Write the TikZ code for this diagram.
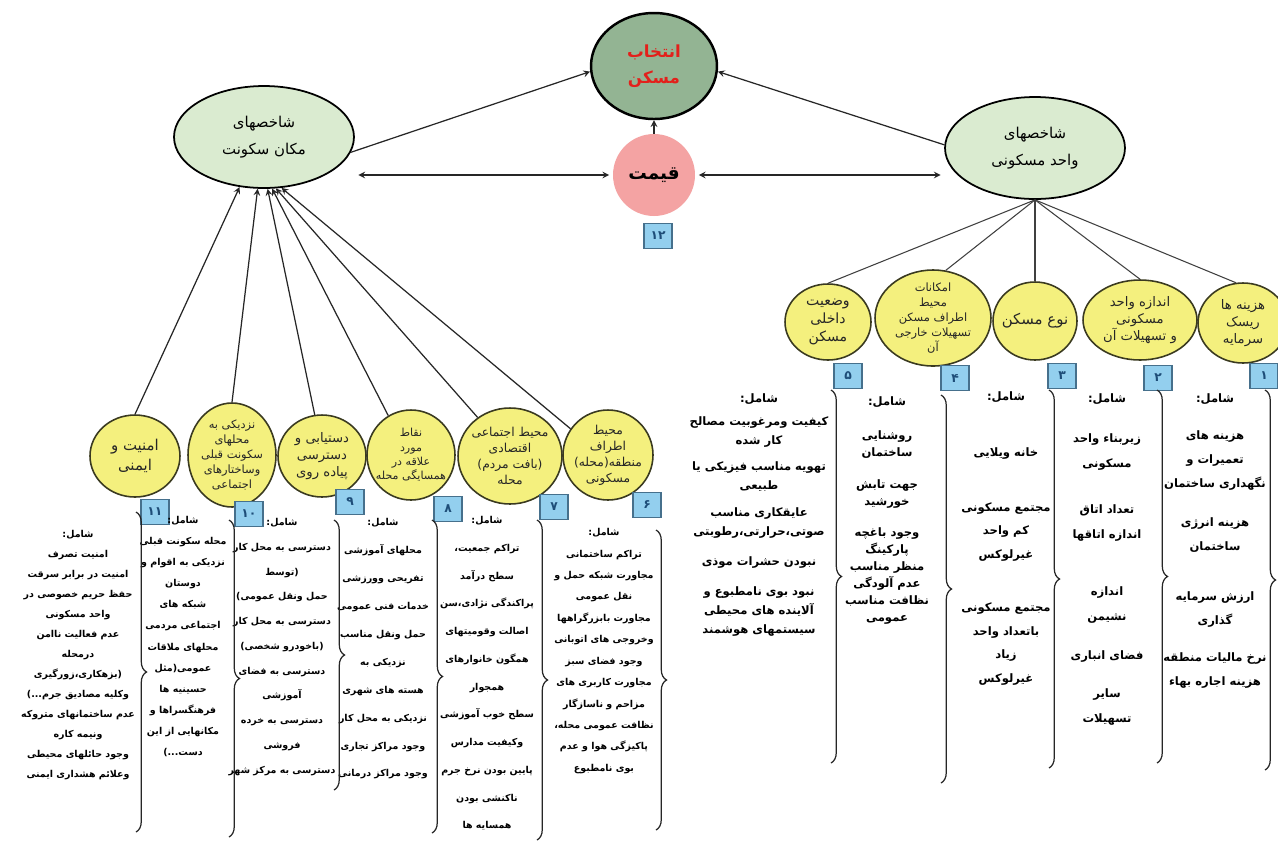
\documentclass[tikz,border=0pt]{standalone}
\usepackage{fontspec}
\usetikzlibrary{shapes.geometric, decorations.pathreplacing}
\newfontfamily\arabicfont[Script=Arabic]{DejaVu Sans}
\TeXXeTstate=1
\newcommand{\fa}[1]{\beginR #1\endR}
\definecolor{topgreen}{HTML}{93B493}
\definecolor{palegreen}{HTML}{DAEBD0}
\definecolor{ellyellow}{HTML}{F4F07E}
\definecolor{ellline}{HTML}{3A3A20}
\definecolor{pricepink}{HTML}{F4A3A3}
\definecolor{boxblue}{HTML}{93CFEE}
\definecolor{boxline}{HTML}{46708C}
\definecolor{boxtext}{HTML}{1E4D78}
\definecolor{titlered}{HTML}{E3201B}

\begin{document}
\begin{tikzpicture}[x=0.02cm, y=-0.02cm, every node/.style={inner sep=0pt},
  topell/.style={ellipse, draw=black, line width=1.4pt, fill=topgreen, minimum width=2.52cm, minimum height=2.12cm, align=center, text=titlered, font=\arabicfont\bfseries\fontsize{9.5}{15}\selectfont},
  priceball/.style={circle, fill=pricepink, minimum size=1.64cm, font=\arabicfont\bfseries\fontsize{10.5}{12}\selectfont},
  bigell/.style={ellipse, draw=black, line width=1pt, fill=palegreen, minimum width=3.6cm, minimum height=2.04cm, align=center, font=\arabicfont\fontsize{8.5}{15}\selectfont},
  smallell/.style={ellipse, draw=ellline, line width=0.9pt, fill=ellyellow, inner xsep=-12pt, inner ysep=-10pt, align=center, text=black!85, font=\arabicfont\fontsize{#1}{1.3\dimexpr #1pt\relax}\selectfont},
  numbox/.style={draw=boxline, fill=boxblue, line width=0.7pt, minimum width=0.56cm, minimum height=0.5cm, text=boxtext, font=\arabicfont\bfseries\fontsize{7}{7}\selectfont},
  rightcol/.style={align=center, anchor=north, font=\arabicfont\bfseries\fontsize{6.6}{#1}\selectfont},
  leftcol/.style={align=center, anchor=north, font=\arabicfont\bfseries\fontsize{5.4}{#1}\selectfont},
  colbrace/.style={decorate, decoration={brace, amplitude=6pt}, draw=black!85, line width=0.7pt},
  arr/.style={-stealth, draw=black!85, line width=0.7pt},
  dblarr/.style={stealth-stealth, draw=black!85, line width=0.7pt},
  spoke/.style={draw=black!75, line width=0.6pt}]
\useasboundingbox (0,0) rectangle (1278,843);
\fill[white] (0,0) rectangle (1278,843);

\node[topell] (choice) at (654,66) {\fa{انتخاب}\\\fa{مسکن}};
\node[priceball] (price) at (654,175) {\fa{قیمت}};
\node[numbox] (n12) at (658,236) {۱۲};
\node[bigell] (site) at (264,137) {\fa{شاخصهای}\\\fa{مکان سکونت}};
\node[bigell] (unit) at (1035,148) {\fa{شاخصهای}\\\fa{واحد مسکونی}};

\node[smallell=8, minimum width=1.72cm, minimum height=1.52cm] (e5) at (828,322) {\fa{وضعیت}\\\fa{داخلی}\\\fa{مسکن}};
\node[smallell=6.5, minimum width=2.32cm, minimum height=1.92cm] (e4) at (933,318) {\fa{امکانات}\\\fa{محیط}\\\fa{اطراف مسکن}\\\fa{تسهیلات خارجی}\\\fa{آن}};
\node[smallell=8.5, minimum width=1.68cm, minimum height=1.56cm] (e3) at (1035,321) {\fa{نوع مسکن}};
\node[smallell=7.5, minimum width=2.28cm, minimum height=1.6cm] (e2) at (1140,320) {\fa{اندازه واحد}\\\fa{مسکونی}\\\fa{و تسهیلات آن}};
\node[smallell=7.5, minimum width=1.8cm, minimum height=1.6cm] (e1) at (1243,323) {\fa{هزینه ها}\\\fa{ریسک}\\\fa{سرمایه}};

\node[smallell=8.5, minimum width=1.8cm, minimum height=1.64cm] (e11) at (135,456) {\fa{امنیت و}\\\fa{ایمنی}};
\node[smallell=6.5, minimum width=1.76cm, minimum height=2.08cm] (e10) at (232,455) {\fa{نزدیکی به}\\\fa{محلهای}\\\fa{سکونت قبلی}\\\fa{وساختارهای}\\\fa{اجتماعی}};
\node[smallell=7.5, minimum width=1.76cm, minimum height=1.64cm] (e9) at (322,456) {\fa{دستیابی و}\\\fa{دسترسی}\\\fa{پیاده روی}};
\node[smallell=6.3, minimum width=1.76cm, minimum height=1.8cm] (e8) at (411,455) {\fa{نقاط}\\\fa{مورد}\\\fa{علاقه در}\\\fa{همسایگی محله}};
\node[smallell=7, minimum width=2.08cm, minimum height=1.92cm] (e7) at (510,456) {\fa{محیط اجتماعی}\\\fa{اقتصادی}\\\fa{(بافت مردم)}\\\fa{محله}};
\node[smallell=7, minimum width=1.8cm, minimum height=1.8cm] (e6) at (608,455) {\fa{محیط}\\\fa{اطراف}\\\fa{منطقه(محله)}\\\fa{مسکونی}};

\node[numbox] (n5) at (848,376) {۵};
\node[numbox] (n4) at (955,378) {۴};
\node[numbox] (n3) at (1062,376) {۳};
\node[numbox] (n2) at (1158,378) {۲};
\node[numbox] (n1) at (1264,376) {۱};
\node[numbox] (n11) at (155,512) {۱۱};
\node[numbox] (n10) at (249,514) {۱۰};
\node[numbox] (n9) at (350,502) {۹};
\node[numbox] (n8) at (448,509) {۸};
\node[numbox] (n7) at (554,507) {۷};
\node[numbox] (n6) at (647,505) {۶};

\draw[arr] (site.350) -- (choice.185);
\draw[arr] (unit.178) -- (choice.355);
\draw[arr] (price) -- (choice);
\draw[dblarr, shorten >=2pt, shorten <=2pt] (site.east |- price) -- (price.west);
\draw[dblarr, shorten >=2pt, shorten <=2pt] (price.east) -- (price -| unit.west);

\draw[spoke] (unit.south) -- (e5.north);
\draw[spoke] (unit.south) -- (e4.75);
\draw[spoke] (unit.south) -- (e3.north);
\draw[spoke] (unit.south) -- (e2.north);
\draw[spoke] (unit.south) -- (e1.100);

\draw[arr] (e11.north) -- (site.244);
\draw[arr] (e10.north) -- (site.263);
\draw[arr] (e9.100) -- (site.274);
\draw[arr] (e8.120) -- (site.279);
\draw[arr] (e7.130) -- (site.283);
\draw[arr] (e6.145) -- (site.289);

\node[rightcol=10.8pt] (l5) at (759,393) {\fa{شامل:}\\[2.3pt]\fa{کیفیت ومرغوبیت مصالح}\\\fa{کار شده}\\[4pt]\fa{تهویه مناسب فیزیکی یا}\\\fa{طبیعی}\\[4.5pt]\fa{عایقکاری مناسب}\\\fa{صوتی،حرارتی،رطوبتی}\\[6.3pt]\fa{نبودن حشرات موذی}\\[6.8pt]\fa{نبود بوی نامطبوع و}\\\fa{آلاینده های محیطی}\\\fa{سیستمهای هوشمند}};
\node[rightcol=9.7pt] (l4) at (887,396) {\fa{شامل:}\\[9.7pt]\fa{روشنایی}\\\fa{ساختمان}\\[8.5pt]\fa{جهت تابش}\\\fa{خورشید}\\[8pt]\fa{وجود باغچه}\\\fa{پارکینگ}\\\fa{منظر مناسب}\\\fa{عدم آلودگی}\\\fa{نظافت مناسب}\\\fa{عمومی}};
\node[rightcol=13.4pt] (l3) at (1006,391) {\fa{شامل:}\\[18.8pt]\fa{خانه ویلایی}\\[17.6pt]\fa{مجتمع مسکونی}\\\fa{کم واحد}\\\fa{غیرلوکس}\\[17pt]\fa{مجتمع مسکونی}\\\fa{باتعداد واحد}\\\fa{زیاد}\\\fa{غیرلوکس}};
\node[rightcol=14.2pt] (l2) at (1107,393) {\fa{شامل:}\\[8.5pt]\fa{زیربناء واحد}\\\fa{مسکونی}\\[12.5pt]\fa{تعداد اتاق}\\\fa{اندازه اتاقها}\\[18pt]\fa{اندازه}\\\fa{نشیمن}\\[8pt]\fa{فضای انباری}\\[7.4pt]\fa{سایر}\\\fa{تسهیلات}};
\node[rightcol=13.7pt] (l1) at (1215,393) {\fa{شامل:}\\[7.4pt]\fa{هزینه های}\\\fa{تعمیرات و}\\\fa{نگهداری ساختمان}\\[8.5pt]\fa{هزینه انرژی}\\\fa{ساختمان}\\[14.8pt]\fa{ارزش سرمایه}\\\fa{گذاری}\\[7.4pt]\fa{نرخ مالیات منطقه}\\\fa{هزینه اجاره بهاء}};

\node[leftcol=11.4pt] (l11) at (78,530) {\fa{شامل:}\\\fa{امنیت تصرف}\\\fa{امنیت در برابر سرقت}\\\fa{حفظ حریم خصوصی در}\\\fa{واحد مسکونی}\\\fa{عدم فعالیت ناامن}\\\fa{درمحله}\\\fa{(بزهکاری،زورگیری}\\\fa{وکلیه مصادیق جرم...)}\\\fa{عدم ساختمانهای متروکه}\\\fa{ونیمه کاره}\\\fa{وجود حائلهای محیطی}\\\fa{وعلائم هشداری ایمنی}};
\node[leftcol=12pt] (l10) at (183,516) {\fa{شامل:}\\\fa{محله سکونت قبلی}\\\fa{نزدیکی به اقوام و}\\\fa{دوستان}\\\fa{شبکه های}\\\fa{اجتماعی مردمی}\\\fa{محلهای ملاقات}\\\fa{عمومی(مثل}\\\fa{حسینیه ها}\\\fa{فرهنگسراها و}\\\fa{مکانهایی از این}\\\fa{دست...)}};
\node[leftcol=14.1pt] (l9) at (282,518) {\fa{شامل:}\\\fa{دسترسی به محل کار}\\\fa{(توسط}\\\fa{حمل ونقل عمومی)}\\\fa{دسترسی به محل کار}\\\fa{(باخودرو شخصی)}\\\fa{دسترسی به فضای}\\\fa{آموزشی}\\\fa{دسترسی به خرده}\\\fa{فروشی}\\\fa{دسترسی به مرکز شهر}};
\node[leftcol=15.9pt] (l8) at (383,518) {\fa{شامل:}\\\fa{محلهای آموزشی}\\\fa{تفریحی وورزشی}\\\fa{خدمات فنی عمومی}\\\fa{حمل ونقل مناسب}\\\fa{نزدیکی به}\\\fa{هسته های شهری}\\\fa{نزدیکی به محل کار}\\\fa{وجود مراکز تجاری}\\\fa{وجود مراکز درمانی}};
\node[leftcol=15.8pt] (l7) at (487,516) {\fa{شامل:}\\\fa{تراکم جمعیت،}\\\fa{سطح درآمد}\\\fa{پراکندگی نژادی،سن}\\\fa{اصالت وقومیتهای}\\\fa{همگون خانوارهای}\\\fa{همجوار}\\\fa{سطح خوب آموزشی}\\\fa{وکیفیت مدارس}\\\fa{پایین بودن نرخ جرم}\\\fa{ناکنشی بودن}\\\fa{همسایه ها}};
\node[leftcol=12.2pt] (l6) at (604,528) {\fa{شامل:}\\\fa{تراکم ساختمانی}\\\fa{مجاورت شبکه حمل و}\\\fa{نقل عمومی}\\\fa{مجاورت بابزرگراهها}\\\fa{وخروجی های اتوبانی}\\\fa{وجود فضای سبز}\\\fa{مجاورت کاربری های}\\\fa{مزاحم و ناسازگار}\\\fa{نظافت عمومی محله،}\\\fa{پاکیزگی هوا و عدم}\\\fa{بوی نامطبوع}};

\draw[colbrace] (831,390) -- (831,763);
\draw[colbrace] (941,395) -- (941,783);
\draw[colbrace] (1049,390) -- (1049,768);
\draw[colbrace] (1157,390) -- (1157,763);
\draw[colbrace] (1265,390) -- (1265,770);
\draw[colbrace] (136,512) -- (136,832);
\draw[colbrace] (229,520) -- (229,837);
\draw[colbrace] (334,520) -- (334,790);
\draw[colbrace] (432,520) -- (432,833);
\draw[colbrace] (537,520) -- (537,840);
\draw[colbrace] (656,530) -- (656,830);
\end{tikzpicture}
\end{document}
